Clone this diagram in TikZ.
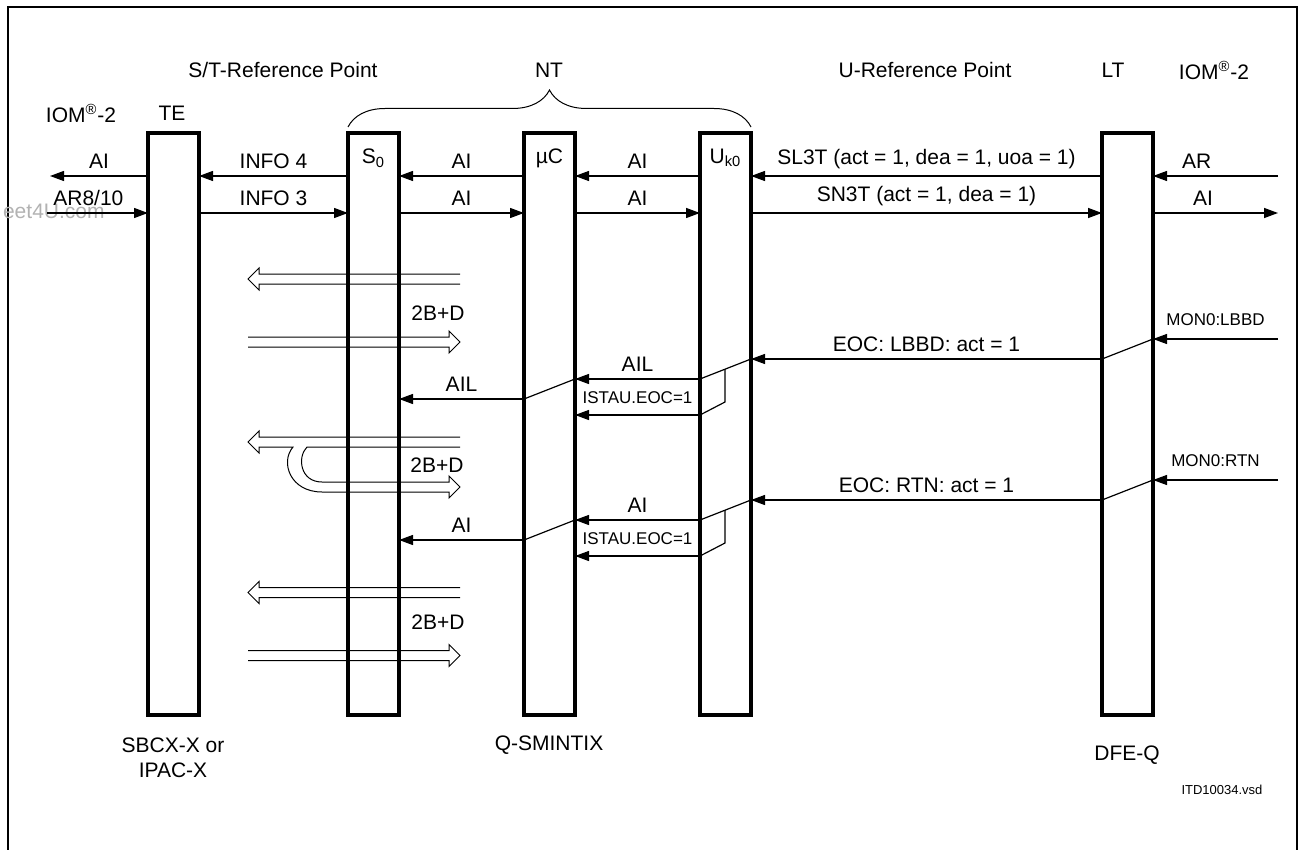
\documentclass[tikz,border=0pt]{standalone}
\usepackage{fontspec}
\setmainfont{Liberation Sans}
\usetikzlibrary{arrows.meta,positioning,decorations.pathreplacing}

\newcommand{\fatarrow}[3]{% #1 = y, #2 = tail x, #3 = tip x
  \pgfmathsetmacro{\fb}{#3-11*sign(#3-#2)}
  \draw[fat] (#2,#1-5) -- (\fb,#1-5) -- (\fb,#1-11) -- (#3,#1)
    -- (\fb,#1+11) -- (\fb,#1+5) -- (#2,#1+5);
}

\begin{document}
\begin{tikzpicture}[x=0.5pt,y=-0.5pt,>={Triangle[length=7pt,width=5pt]},
  every node/.style={font=\fontsize{10.5}{12.5}\selectfont},
  smalltext/.style={font=\fontsize{8.5}{10}\selectfont},
  chip/.style={draw,line width=1.7pt,minimum width=25.5pt,minimum height=291pt,inner sep=0pt,outer sep=0pt},
  msg/.style={->,line width=0.65pt},
  tie/.style={line width=0.6pt},
  fat/.style={line width=0.5pt}]
  \useasboundingbox (0,0) rectangle (1300,850);
  \draw[line width=1pt] (8,7) rectangle (1297,880);
  \node[anchor=west,text=black!30] (wm) at (-4,211) {eet4U.com};

  % headers
  \node (stref) at (283,70) {S/T-Reference Point};
  \node (nt) at (549,70) {NT};
  \node (uref) at (925,70) {U-Reference Point};
  \node (ltname) at (1113,70) {LT};
  \node (iomr) at (1214,70) {IOM\textsuperscript{®}-2};
  \node (ioml) at (81,113) {IOM\textsuperscript{®}-2};
  \node (tename) at (172,113) {TE};

  % blocks
  \node[chip] (te) at (173.5,424) {};
  \node[chip] (s0) at (373.5,424) {};
  \node[chip] (mc) at (549.5,424) {};
  \node[chip] (uk) at (725.5,424) {};
  \node[chip] (lt) at (1127.5,424) {};
  \node[below=4.5pt] (s0lab) at (s0.north) {S\textsubscript{0}};
  \node[below=4.5pt] (mclab) at (mc.north) {µC};
  \node[below=4.5pt] (uklab) at (uk.north) {U\textsubscript{k0}};
  \draw[decorate,decoration={brace,amplitude=18.5pt},line width=0.5pt]
    (s0.north west |- 0,127) -- (uk.north east |- 0,127);

  % activation
  \coordinate (r1) at (0,176);
  \coordinate (r2) at (0,213);
  \coordinate (iomL1) at (50,176);
  \coordinate (iomL2) at (47,213);
  \coordinate (iomR1) at (1278,176);
  \coordinate (iomR2) at (1278,213);
  \draw[msg] (te.west |- r1) -- (iomL1) node[midway,above] (a1) {AI};
  \draw[msg] (iomL2) -- (te.west |- r2) node[pos=0.41,above] (a2) {AR8/10};
  \draw[msg] (s0.west |- r1) -- (te.east |- r1) node[midway,above] (a3) {INFO 4};
  \draw[msg] (te.east |- r2) -- (s0.west |- r2) node[midway,above] (a4) {INFO 3};
  \draw[msg] (mc.west |- r1) -- (s0.east |- r1) node[midway,above] (a5) {AI};
  \draw[msg] (s0.east |- r2) -- (mc.west |- r2) node[midway,above] (a6) {AI};
  \draw[msg] (uk.west |- r1) -- (mc.east |- r1) node[midway,above] (a7) {AI};
  \draw[msg] (mc.east |- r2) -- (uk.west |- r2) node[midway,above] (a8) {AI};
  \draw[msg] (lt.west |- r1) -- (uk.east |- r1) node[midway,above] (a9) {SL3T (act = 1, dea = 1, uoa = 1)};
  \draw[msg] (uk.east |- r2) -- (lt.west |- r2) node[midway,above] (a10) {SN3T (act = 1, dea = 1)};
  \draw[msg] (iomR1) -- (lt.east |- r1) node[pos=0.65,above] (a11) {AR};
  \draw[msg] (lt.east |- r2) -- (iomR2) node[pos=0.4,above] (a12) {AI};

  % data
  \fatarrow{279}{460}{248}
  \fatarrow{342}{248}{460}
  \node (bd1) at (438,313) {2B+D};
  \draw[fat] (460,437) -- (259,437) -- (259,431) -- (248,442) -- (259,453) -- (259,447)
    -- (293,447) .. controls (280,462) and (290,492) .. (322,492) -- (449,492) -- (449,498)
    -- (460,487) -- (449,476) -- (449,482) -- (322,482) .. controls (300,482) and (297,457) .. (307,447)
    -- (460,447);
  \node (bd2) at (437,465) {2B+D};
  \fatarrow{592.5}{460}{248}
  \fatarrow{655.5}{248}{460}
  \node (bd3) at (438,622) {2B+D};

  % loops
  \foreach \y/\eocname/\upname [count=\i] in {339/LBBD/AIL,480/RTN/AI}{
    \coordinate (mon\i) at (1278,\y);
    \draw[msg] (mon\i) -- (lt.east |- mon\i) node[smalltext,midway,above=3pt] (m\i) {MON0:\eocname};
    \draw[tie] (lt.east |- mon\i) -- (lt.west |- 0,\y+20) coordinate (e\i);
    \draw[msg] (e\i) -- (uk.east |- e\i) node[midway,above] (eoc\i) {EOC: \eocname: act = 1};
    \draw[tie] (uk.east |- e\i) -- (uk.west |- 0,\y+40) coordinate (u\i);
    \draw[msg] (u\i) -- (mc.east |- u\i) node[midway,above] (up\i) {\upname};
    \draw[tie] (725,\y+30) -- (725,\y+63) -- (uk.west |- 0,\y+76) coordinate (s\i);
    \draw[msg] (s\i) -- (mc.east |- s\i) node[smalltext,midway,above=2pt] (st\i) {ISTAU.EOC=1};
    \draw[tie] (mc.east |- u\i) -- (mc.west |- 0,\y+60) coordinate (c\i);
    \draw[msg] (c\i) -- (s0.east |- c\i) node[midway,above] (dn\i) {\upname};
  }

  % names
  \node[align=center] (tepart) at (173,758) {SBCX-X or\\IPAC-X};
  \node (ntpart) at (549,745) {Q-SMINTIX};
  \node (ltpart) at (1127,755) {DFE-Q};
  \node[font=\fontsize{6.5}{8}\selectfont] (fname) at (1222,790) {ITD10034.vsd};
\end{tikzpicture}
\end{document}
